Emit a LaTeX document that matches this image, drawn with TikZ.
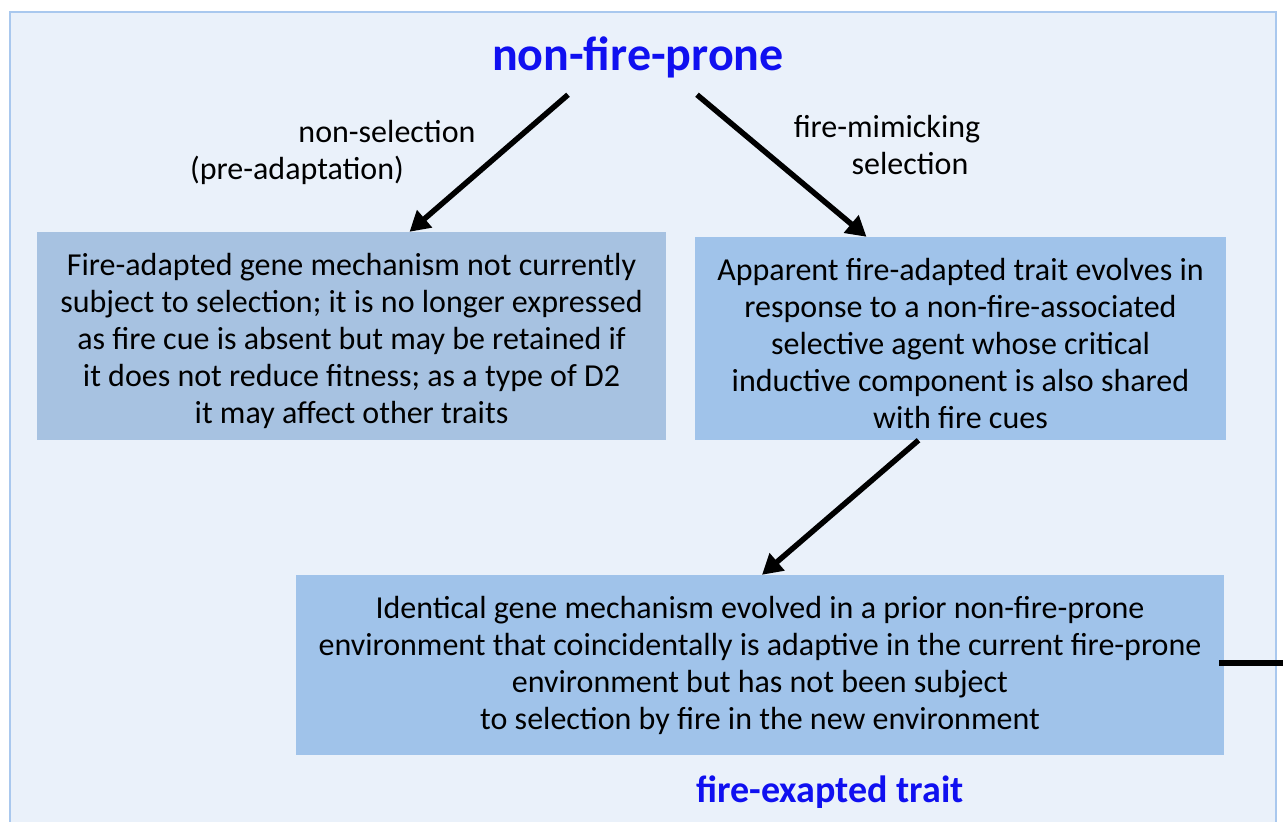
\documentclass[tikz,border=0pt]{standalone}
\usepackage{fontspec}
\setmainfont{Carlito}
\usetikzlibrary{arrows.meta}
\definecolor{panelFill}{HTML}{EAF1FA}
\definecolor{panelLine}{HTML}{A9C8EE}
\definecolor{boxGrey}{HTML}{A7C2E1}
\definecolor{boxBlue}{HTML}{A0C3EA}
\definecolor{headBlue}{HTML}{1010F0}
\newcommand{\topstrut}{\rule{0pt}{31.5pt}}
\begin{document}
\begin{tikzpicture}[x=1pt, y=-1pt,
  boxnode/.style={inner sep=0pt, align=center, font=\fontsize{32}{37}\selectfont},
  lbl/.style={inner sep=0pt, anchor=base, font=\fontsize{32}{37}\selectfont},
  headline/.style={inner sep=0pt, anchor=base, text=headBlue, font=\bfseries},
  flow/.style={line width=5.5pt, -{Triangle[length=20pt, width=22pt]}}]
% Page and panel
\clip (0,0) rectangle (1283,822);
\fill[white] (0,0) rectangle (1283,822);
\path[fill=panelFill, draw=panelLine, line width=2pt] (10,12) rectangle (1276,850);
% Headings
\node[headline, font=\bfseries\fontsize{48}{56}\selectfont] (title) at (638,70) {non-fire-prone};
\node[headline, font=\bfseries\fontsize{38}{44}\selectfont] (exapted) at (830,802) {fire-exapted trait};
% Boxes
\node[boxnode, fill=boxGrey, minimum width=629pt, minimum height=208pt] (leftbox) at (351.5,336)
  {\topstrut Fire-adapted gene mechanism not currently\\subject to selection; it is no longer expressed\\as fire cue is absent but may be retained if\\it does not reduce fitness; as a type of D2\\it may affect other traits};
\node[boxnode, fill=boxBlue, minimum width=531pt, minimum height=203pt] (rightbox) at (960.5,338.5)
  {\topstrut Apparent fire-adapted trait evolves in\\response to a non-fire-associated\\selective agent whose critical\\inductive component is also shared\\with fire cues};
\node[boxnode, fill=boxBlue, minimum width=928pt, minimum height=180pt] (bottombox) at (760,665)
  {Identical gene mechanism evolved in a prior non-fire-prone\\environment that coincidentally is adaptive in the current fire-prone\\environment but has not been subject\\to selection by fire in the new environment};
% Arrow labels
\node[lbl] (nonsel) at (387,142) {non-selection};
\node[lbl] (preadapt) at (297,179) {(pre-adaptation)};
\node[lbl] (mimic) at (887,137) {fire-mimicking};
\node[lbl] (mimicsel) at (910,174) {selection};
% Connectors
\draw[flow] ([shift={(-70,17)}]title.south) -- ([shift={(58,0)}]leftbox.north);
\draw[flow] ([shift={(59,17)}]title.south) -- ([shift={(-94,0)}]rightbox.north);
\draw[flow] ([shift={(-42,0)}]rightbox.south) -- ([shift={(2,0)}]bottombox.north);
\coordinate (exit) at (1283,663);
\draw[line width=5.5pt] ([shift={(-5,-2)}]bottombox.east) -- (exit);
\end{tikzpicture}
\end{document}
